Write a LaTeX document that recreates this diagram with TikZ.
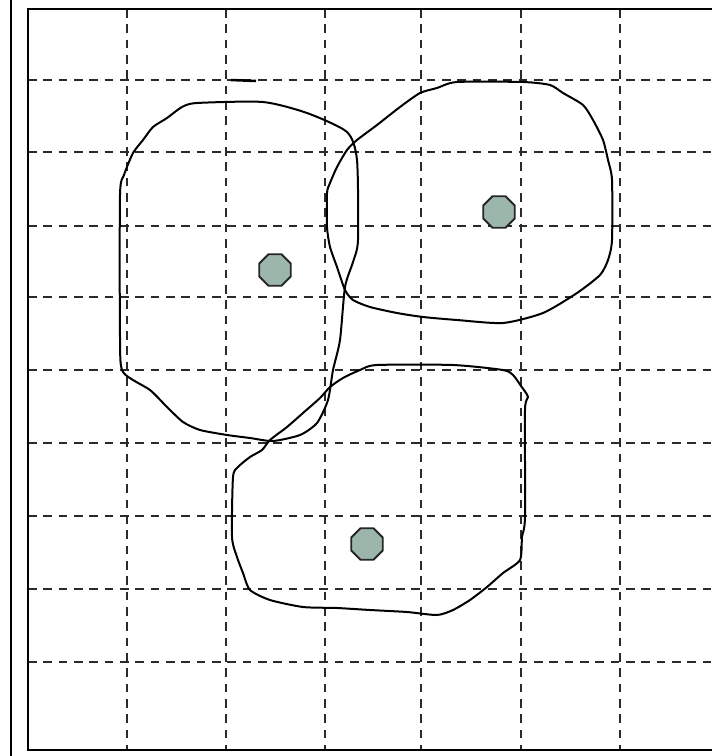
\documentclass[tikz,border=0pt]{standalone}
\usetikzlibrary{shapes.geometric}
\definecolor{seed}{HTML}{9DB6AC}
\definecolor{gridc}{HTML}{2A2A2A}
\tikzset{
  gridline/.style={draw=gridc, line width=1.9pt, dash pattern=on 6.5pt off 5pt},
  region/.style={draw=black, line width=1.5pt, line join=round},
  frameline/.style={draw=black, line width=1.9pt},
  seedpt/.style={regular polygon, regular polygon sides=8, minimum size=25.5pt, inner sep=0pt,
    fill=seed, draw=black!85, line width=1.4pt}
}
\begin{document}
\begin{tikzpicture}[x=0.75pt,y=-0.75pt]
\useasboundingbox (0,0) rectangle (711,756);
\fill[white] (0,0) rectangle (711,756);
% grid
\foreach \x in {127,226,325,421,521,620} \draw[gridline] (\x,9) -- (\x,750);
\foreach \y in {80,152,226,297,370,443,516,589,662} \draw[gridline] (28,\y) -- (711,\y);
% frame
\draw[frameline] (716,9) -- (28,9) -- (28,750) -- (716,750);
\draw[draw=black, line width=1.4pt] (11,0) -- (11,756);
% small mark
\draw[black, line width=1.9pt] (231,80) -- (256,81);
% regions
\draw[region] plot[smooth cycle, tension=0.4] coordinates {
(197,103) (263,102) (307,113) (347,132) (357,160) (358,240) (353,262) (345,287) (340,340) (333,370) (328,400) (317,423) (300,435) (273,441) (250,438) (227,435) (200,430) (183,422) (167,407) (150,390) (123,372) (120,337) (120,195) (124,175) (133,153) (143,140) (153,127) (167,118) (182,107)};
\draw[region] plot[smooth cycle, tension=0.4] coordinates {
(457,82) (523,82) (550,85) (563,93) (583,105) (593,120) (603,140) (608,160) (612,180) (612,240) (608,260) (600,275) (577,293) (543,313) (503,323) (457,320) (423,317) (397,313) (370,307) (353,300) (345,290) (337,267) (330,247) (327,227) (327,193) (330,183) (337,167) (347,150) (357,140) (377,125) (400,107) (420,93) (437,88)};
\draw[region] plot[smooth cycle, tension=0.4] coordinates {
(377,365) (453,365) (503,370) (513,375) (521,386) (528,397) (525,410) (525,517) (522,537) (520,560) (503,573) (487,587) (470,600) (453,610) (437,615) (407,612) (370,610) (337,608) (303,607) (270,600) (250,590) (243,573) (237,557) (232,537) (233,477) (238,467) (250,457) (262,450) (270,440) (287,427) (303,413) (320,398) (330,387) (343,378) (360,370)};
% seeds
\node[seedpt] (s1) at (275,270) {};
\node[seedpt] (s2) at (499,212) {};
\node[seedpt] (s3) at (367,544) {};
\end{tikzpicture}
\end{document}
